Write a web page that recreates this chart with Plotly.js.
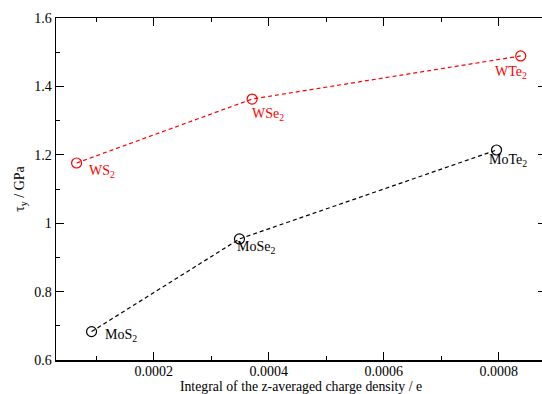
<!DOCTYPE html>
<html>
<head>
<meta charset="utf-8">
<script src="https://cdn.plot.ly/plotly-3.0.1.min.js"></script>
<style>
html,body{margin:0;padding:0;overflow:hidden;background:#fff;}
#chart{width:546px;height:394px;}
</style>
</head>
<body>
<div id="chart"></div>
<script>
// Data
const wLabels = ['WS<sub>2</sub>', 'WSe<sub>2</sub>', 'WTe<sub>2</sub>'];
const wCharge = [0.0000658, 0.000371, 0.000838];
const wTau = [1.176, 1.363, 1.489];

const moLabels = ['MoS<sub>2</sub>', 'MoSe<sub>2</sub>', 'MoTe<sub>2</sub>'];
const moCharge = [0.0000918, 0.000349, 0.000796];
const moTau = [0.683, 0.954, 1.214];

const xTickVals = [0.0002, 0.0004, 0.0006, 0.0008];
const xTickText = ['0.0002', '0.0004', '0.0006', '0.0008'];

const font = "'Liberation Serif', 'Times New Roman', Times, serif";

const traces = [
  {x: wCharge, y: wTau, mode: 'lines+markers', type: 'scatter',
   line: {color: '#ff0000', width: 1.2, dash: '4px,3px'},
   marker: {symbol: 'circle-open', size: 10, color: '#ff0000', line: {width: 1.2, color: '#ff0000'}},
   hoverinfo: 'skip'},
  {x: moCharge, y: moTau, mode: 'lines+markers', type: 'scatter',
   line: {color: '#000000', width: 1.2, dash: '4px,3px'},
   marker: {symbol: 'circle-open', size: 10, color: '#000000', line: {width: 1.2, color: '#000000'}},
   hoverinfo: 'skip'}
];

// label offsets (pixels) relative to each point
const wOff = [[10, -8, 'left'], [-2, -15, 'left'], [8, -17, 'right']];
const moOff = [[11, -4, 'left'], [-4, -9, 'left'], [-10, -10, 'left']];

const annotations = [];
wLabels.forEach((t, i) => annotations.push({
  x: wCharge[i], y: wTau[i], text: t, showarrow: false,
  xanchor: wOff[i][2], yanchor: 'middle', xshift: wOff[i][0], yshift: wOff[i][1],
  font: {family: font, size: 14, color: '#ff0000'}
}));
moLabels.forEach((t, i) => annotations.push({
  x: moCharge[i], y: moTau[i], text: t, showarrow: false,
  xanchor: moOff[i][2], yanchor: 'middle', xshift: moOff[i][0], yshift: moOff[i][1],
  font: {family: font, size: 14, color: '#000000'}
}));

const layout = {
  width: 546, height: 394,
  margin: {l: 56, r: 0, t: 18, b: 34},
  paper_bgcolor: '#ffffff', plot_bgcolor: '#ffffff',
  showlegend: false,
  font: {family: font, size: 14, color: '#000'},
  xaxis: {
    range: [0.00003, 0.000882],
    tickvals: xTickVals, ticktext: xTickText,
    ticks: 'inside', ticklen: 8, tickwidth: 1, tickcolor: '#000',
    minor: {dtick: 0.0001, tick0: 0, ticks: 'inside', ticklen: 4, tickwidth: 1, tickcolor: '#000'},
    showgrid: false, zeroline: false,
    showline: true, linecolor: '#000', linewidth: 1.5, mirror: 'ticks',
    ticklabelstandoff: -2,
    tickfont: {family: font, size: 14, color: '#000'},
    title: {text: 'Integral of the z-averaged charge density / e', standoff: 0,
            font: {family: font, size: 13.8, color: '#000'}}
  },
  yaxis: {
    range: [0.6, 1.6], dtick: 0.2, tick0: 0.6,
    ticks: 'inside', ticklen: 8, tickwidth: 1, tickcolor: '#000',
    minor: {dtick: 0.1, ticks: 'inside', ticklen: 4, tickwidth: 1, tickcolor: '#000'},
    showgrid: false, zeroline: false,
    showline: true, linecolor: '#000', linewidth: 1.5, mirror: 'ticks',
    tickfont: {family: font, size: 14, color: '#000'},
    title: {text: 'τ<sub>y</sub> / GPa', standoff: 6,
            font: {family: font, size: 14, color: '#000'}}
  },
  annotations: annotations
};

Plotly.newPlot('chart', traces, layout, {staticPlot: true, displayModeBar: false});
</script>
</body>
</html>
